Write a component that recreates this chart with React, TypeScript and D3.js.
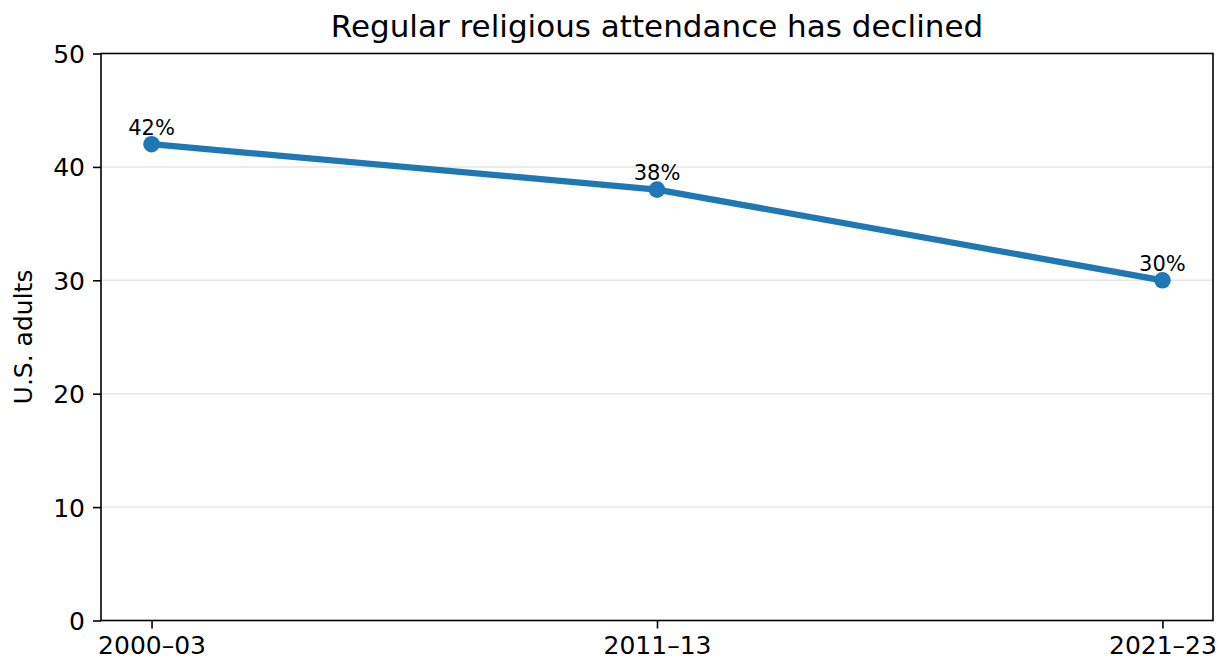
import React, { useRef, useEffect } from "react";
import * as d3 from "d3";

const periods: string[] = ["2000–03", "2011–13", "2021–23"];
const attendance: number[] = [42, 38, 30];
const yTicks: number[] = [0, 10, 20, 30, 40, 50];
const pointLabels: string[] = ["42%", "38%", "30%"];

const chartTitle = "Regular religious attendance has declined";
const yTitle = "U.S. adults";

const App: React.FC = () => {
  const svgRef = useRef<SVGSVGElement>(null);

  useEffect(() => {
    if (!svgRef.current) return;

    const width = 1222;
    const height = 662;
    const margin = { top: 53.5, right: 9, bottom: 41.5, left: 101 };
    const font = "'DejaVu Sans', sans-serif";
    const blue = "#1f77b4";

    const svg = d3
      .select(svgRef.current)
      .attr("width", width)
      .attr("height", height);

    svg.selectAll("*").remove();

    svg.append("rect").attr("width", width).attr("height", height).attr("fill", "#fff");

    const xScale = d3
      .scalePoint<string>()
      .domain(periods)
      .range([margin.left, width - margin.right])
      .padding(0.1);

    const yScale = d3
      .scaleLinear()
      .domain([0, 50])
      .range([height - margin.bottom, margin.top]);

    // grid
    svg
      .append("g")
      .selectAll("line")
      .data(yTicks.filter((t) => t > 0 && t < 50))
      .enter()
      .append("line")
      .attr("x1", margin.left)
      .attr("x2", width - margin.right)
      .attr("y1", (d) => yScale(d))
      .attr("y2", (d) => yScale(d))
      .attr("stroke", "#e6e6e6")
      .attr("stroke-width", 1.5);

    // axes
    const yAxis = d3
      .axisLeft(yScale)
      .tickValues(yTicks)
      .tickSize(8)
      .tickPadding(8)
      .tickFormat((d) => String(d));

    const xAxis = d3.axisBottom(xScale).tickSize(8).tickPadding(7);

    const gy = svg
      .append("g")
      .attr("transform", `translate(${margin.left},0)`)
      .call(yAxis);

    const gx = svg
      .append("g")
      .attr("transform", `translate(0,${height - margin.bottom})`)
      .call(xAxis);

    [gx, gy].forEach((g) => {
      g.select(".domain").remove();
      g.selectAll(".tick line").attr("stroke", "#000").attr("stroke-width", 1.6);
      g.selectAll(".tick text")
        .attr("fill", "#000")
        .style("font-family", font)
        .style("font-size", "25px");
    });
    gy.selectAll(".tick text").attr("dy", "0.36em");
    gx.selectAll(".tick text").attr("dy", "0.74em");

    // frame
    svg
      .append("rect")
      .attr("x", margin.left)
      .attr("y", margin.top)
      .attr("width", width - margin.left - margin.right)
      .attr("height", height - margin.top - margin.bottom)
      .attr("fill", "none")
      .attr("stroke", "#000")
      .attr("stroke-width", 1.6);

    // line
    const line = d3
      .line<number>()
      .x((_, i) => xScale(periods[i]) ?? 0)
      .y((d) => yScale(d));

    svg
      .append("path")
      .datum(attendance)
      .attr("d", line)
      .attr("fill", "none")
      .attr("stroke", blue)
      .attr("stroke-width", 6.25)
      .attr("stroke-linejoin", "round")
      .attr("stroke-linecap", "round");

    svg
      .append("g")
      .selectAll("circle")
      .data(attendance)
      .enter()
      .append("circle")
      .attr("cx", (_, i) => xScale(periods[i]) ?? 0)
      .attr("cy", (d) => yScale(d))
      .attr("r", 8.3)
      .attr("fill", blue);

    // value labels
    svg
      .append("g")
      .selectAll("text")
      .data(attendance)
      .enter()
      .append("text")
      .attr("x", (_, i) => xScale(periods[i]) ?? 0)
      .attr("y", (d) => yScale(d) - 9.5)
      .attr("text-anchor", "middle")
      .style("font-family", font)
      .style("font-size", "21px")
      .attr("fill", "#000")
      .text((_, i) => pointLabels[i]);

    // title
    svg
      .append("text")
      .attr("x", (margin.left + width - margin.right) / 2)
      .attr("y", 37)
      .attr("text-anchor", "middle")
      .style("font-family", font)
      .style("font-size", "31px")
      .attr("fill", "#000")
      .text(chartTitle);

    // y label
    svg
      .append("text")
      .attr(
        "transform",
        `translate(32,${(margin.top + height - margin.bottom) / 2}) rotate(-90)`
      )
      .attr("text-anchor", "middle")
      .style("font-family", font)
      .style("font-size", "25px")
      .attr("fill", "#000")
      .text(yTitle);
  }, []);

  return (
    <svg
      ref={svgRef}
      style={{ position: "absolute", left: 0, top: 0, display: "block" }}
    ></svg>
  );
};

export default App;
